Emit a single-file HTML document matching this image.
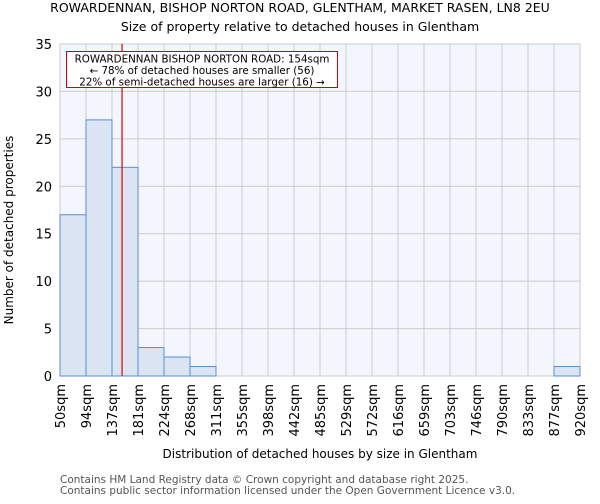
<!DOCTYPE html>
<html><head><meta charset="utf-8"><style>
body{margin:0;background:#fff;font-family:"DejaVu Sans","Liberation Sans",sans-serif}
</style></head><body>
<svg width="600" height="500" xmlns="http://www.w3.org/2000/svg" font-family="DejaVu Sans, Liberation Sans, sans-serif">
<text x="300" y="12" text-anchor="middle" font-size="12.5">ROWARDENNAN, BISHOP NORTON ROAD, GLENTHAM, MARKET RASEN, LN8 2EU</text>
<text x="300" y="31" text-anchor="middle" font-size="12.5">Size of property relative to detached houses in Glentham</text>
<g id="plot"></g>
<text transform="translate(13,230) rotate(-90)" text-anchor="middle" font-size="12">Number of detached properties</text>
<text x="320" y="458" text-anchor="middle" font-size="12">Distribution of detached houses by size in Glentham</text>
<text x="60" y="483" font-size="10.5" fill="#555">Contains HM Land Registry data © Crown copyright and database right 2025.</text>
<text x="60" y="494" font-size="10.5" fill="#555">Contains public sector information licensed under the Open Government Licence v3.0.</text>
</svg>
<script>
const binEdges=[50,94,137,181,224,268,311,355,398,442,485,529,572,616,659,703,746,790,833,877,920];
const counts=[17,27,22,3,2,1,0,0,0,0,0,0,0,0,0,0,0,0,0,1];
const yTicks=[0,5,10,15,20,25,30,35];
const propertySize=154;
const NS="http://www.w3.org/2000/svg";
const L=60,R=580,T=44,B=376,yMax=35;
const n=counts.length;
const xb=i=>L+(R-L)*i/n;
const xv=v=>{for(let i=0;i<n;i++){if(v<=binEdges[i+1])return xb(i)+(v-binEdges[i])/(binEdges[i+1]-binEdges[i])*(R-L)/n;}return R;};
const y=v=>B-(B-T)*v/yMax;
const g=document.getElementById('plot');
function mk(t,a){const e=document.createElementNS(NS,t);for(const k in a)e.setAttribute(k,a[k]);g.appendChild(e);return e;}
let e=mk('rect',{x:L,y:T,width:R-L,height:B-T,fill:'#f3f6fc'});


yTicks.forEach(t=>{let l=mk('line',{x1:L,x2:R,y1:y(t),y2:y(t),stroke:'#ccc'});


let tx=mk('text',{x:L-8,y:y(t)+5,'text-anchor':'end','font-size':13});tx.textContent=t;

});
binEdges.forEach((b,i)=>{let l=mk('line',{x1:xb(i),x2:xb(i),y1:T,y2:B,stroke:'#ccc'});


let tx=mk('text',{transform:`translate(${xb(i)+5},${B+8}) rotate(-90)`,'text-anchor':'end','font-size':13});tx.textContent=b+'sqm';

});
counts.forEach((c,i)=>{if(c<=0)return;let r=mk('rect',{x:xb(i),y:y(c),width:(R-L)/n,height:B-y(c),fill:'#dae4f3',stroke:'#5b8fd4','stroke-width':1});

});
e=mk('line',{x1:xv(propertySize),x2:xv(propertySize),y1:T,y2:B,stroke:'#d00','stroke-width':1.2});


e=mk('rect',{x:66.5,y:51.5,width:271,height:36,fill:'#fff',stroke:'#c00'});


["ROWARDENNAN BISHOP NORTON ROAD: 154sqm","← 78% of detached houses are smaller (56)","22% of semi-detached houses are larger (16) →"].forEach((s,i)=>{let t=mk('text',{x:202,y:62.5+i*11.5,'text-anchor':'middle','font-size':10.3});t.textContent=s;

});
</script>
</body></html>
